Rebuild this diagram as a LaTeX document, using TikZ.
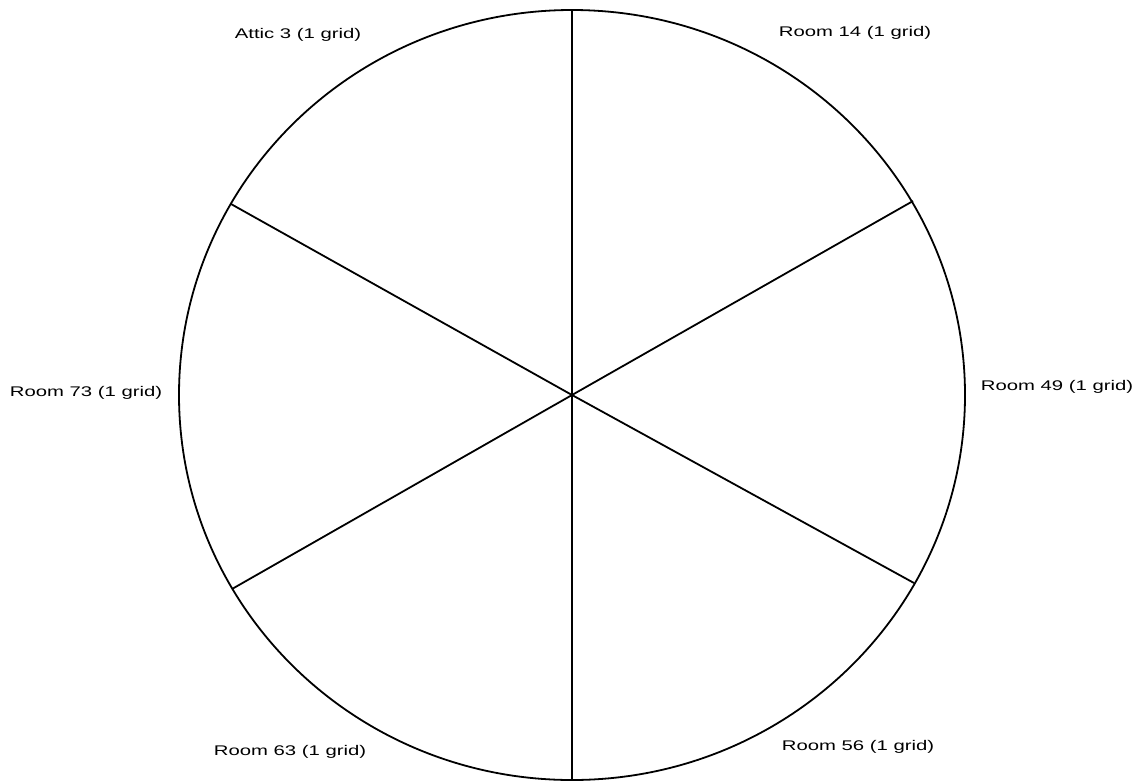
\documentclass[tikz,border=0pt]{standalone}
\usepackage{fontspec}
\setmainfont{Liberation Sans}
\begin{document}
\begin{tikzpicture}[x=1pt,y=-1pt,
  edge/.style={line width=1.8pt,black},
  lbl/.style={inner sep=0pt,font=\fontsize{14}{16}\selectfont}]
\useasboundingbox (0,0) rectangle (1145,780);
\fill[white] (0,0) rectangle (1145,780);
\coordinate (c) at (572,395);
\draw[edge] (c) ellipse [x radius=393, y radius=385];
\coordinate (t) at (572,9);
\coordinate (b) at (572,779);
\coordinate (ul) at (231,204);
\coordinate (ur) at (913,201);
\coordinate (ll) at (232,589);
\coordinate (lr) at (914,583);
\draw[edge] (t) -- (c) -- (b);
\draw[edge] (ul) -- (c) -- (lr);
\draw[edge] (ur) -- (c) -- (ll);
\node[lbl] (a3) at (298,35) {\scalebox{1.45}[1]{Attic 3 (1 grid)}};
\node[lbl] (r14) at (855,33) {\scalebox{1.45}[1]{Room 14 (1 grid)}};
\node[lbl] (r73) at (86,393) {\scalebox{1.45}[1]{Room 73 (1 grid)}};
\node[lbl] (r49) at (1057,387) {\scalebox{1.45}[1]{Room 49 (1 grid)}};
\node[lbl] (r63) at (290,752) {\scalebox{1.45}[1]{Room 63 (1 grid)}};
\node[lbl] (r56) at (858,747) {\scalebox{1.45}[1]{Room 56 (1 grid)}};
\end{tikzpicture}
\end{document}
